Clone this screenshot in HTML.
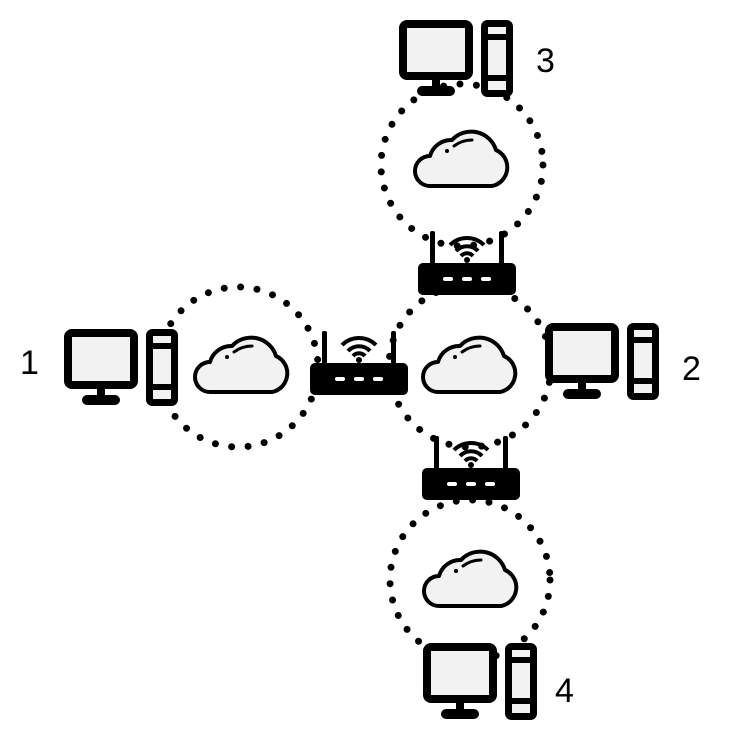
<!DOCTYPE html>
<html><head><style>body{margin:0;background:#fff}svg{display:block}</style></head><body>
<svg width="730" height="746" viewBox="0 0 730 746" xmlns="http://www.w3.org/2000/svg">
<defs>
<g id="pc">
<rect x="4" y="4" width="66" height="52" rx="4" fill="#f2f2f2" stroke="#000" stroke-width="8"/>
<rect x="33" y="58" width="8" height="12" fill="#000"/>
<rect x="18" y="66" width="38" height="10" rx="5" fill="#000"/>
<rect x="85.5" y="3.5" width="25" height="70" rx="3" fill="#f2f2f2" stroke="#000" stroke-width="7"/>
<rect x="85" y="14" width="26" height="6" fill="#000"/>
<rect x="85" y="55" width="26" height="6" fill="#000"/>
</g>
<g id="cloud">
<path d="M-32,26 H30 A19,19 0 0 0 34,-10 A26,26 0 0 0 -10,-20 A22,22 0 0 0 -32,-4 A15,15 0 0 0 -32,26 Z" fill="#f2f2f2" stroke="#000" stroke-width="4" stroke-linejoin="round"/>
<path d="M-8,-14 Q0,-20 10,-20" fill="none" stroke="#000" stroke-width="3" stroke-linecap="round"/>
<circle cx="-15" cy="-9" r="2" fill="#000"/>
</g>
<g id="router">
<rect x="0" y="0" width="98" height="32" rx="5" fill="#000"/>
<rect x="12" y="-32" width="5" height="34" rx="2" fill="#000"/>
<rect x="81" y="-32" width="5" height="34" rx="2" fill="#000"/>
<rect x="25" y="14" width="10" height="4" rx="2" fill="#fff"/>
<rect x="44" y="14" width="10" height="4" rx="2" fill="#fff"/>
<rect x="63" y="14" width="10" height="4" rx="2" fill="#fff"/>
<path d="M32,-18 A24,24 0 0 1 66,-18" fill="none" stroke="#000" stroke-width="4"/>
<path d="M38,-12 A15,15 0 0 1 60,-12" fill="none" stroke="#000" stroke-width="4"/>
<path d="M43,-7 A8,8 0 0 1 55,-7" fill="none" stroke="#000" stroke-width="4"/>
<circle cx="49" cy="-3" r="3" fill="#000"/>
</g>
</defs>
<g fill="none" stroke="#000" stroke-width="7" stroke-linecap="round" stroke-dasharray="0 16.5">
<circle cx="462" cy="165" r="81"/>
<circle cx="238" cy="367" r="80"/>
<circle cx="470" cy="366" r="81"/>
<circle cx="470" cy="580" r="80"/>
</g>
<use href="#pc" x="399" y="20"/>
<use href="#pc" x="64" y="329"/>
<use href="#pc" x="545" y="323"/>
<use href="#pc" x="423" y="643"/>
<use href="#cloud" x="462" y="160"/>
<use href="#cloud" x="242" y="366"/>
<use href="#cloud" x="470" y="366"/>
<use href="#cloud" x="471" y="580"/>
<use href="#router" x="418" y="263"/>
<use href="#router" x="310" y="363"/>
<use href="#router" x="422" y="468"/>
<g font-family="'Liberation Sans',sans-serif" font-size="34" fill="#000">
<text x="536" y="72">3</text>
<text x="20" y="374">1</text>
<text x="682" y="380">2</text>
<text x="555" y="702">4</text>
</g>
</svg>
</body></html>
